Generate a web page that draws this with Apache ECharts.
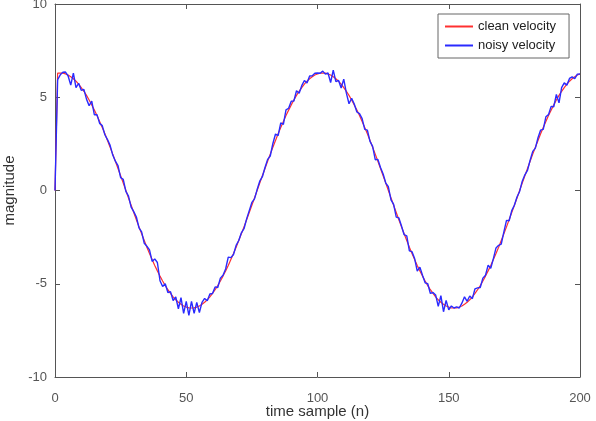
<!DOCTYPE html>
<html>
<head>
<meta charset="utf-8">
<script src="https://cdn.jsdelivr.net/npm/echarts@6/dist/echarts.min.js"></script>
<style>
  html, body { margin: 0; padding: 0; background: #fff; }
  #chart { width: 596px; height: 421px; }
</style>
</head>
<body>
<div id="chart"></div>
<script>
// time samples 0..200
const samples = Array.from({ length: 201 }, (_, i) => i);

const cleanVelocity = [
  0, 6.29, 6.30, 6.29, 6.25, 6.19, 6.10, 5.99, 5.86, 5.70,
  5.52, 5.32, 5.10, 4.85, 4.59, 4.31, 4.02, 3.70, 3.38, 3.04,
  2.68, 2.32, 1.95, 1.57, 1.18, 0.79, 0.40, 0.00, -0.40, -0.79,
  -1.18, -1.57, -1.95, -2.32, -2.68, -3.04, -3.38, -3.70, -4.02, -4.31,
  -4.59, -4.85, -5.10, -5.32, -5.52, -5.70, -5.86, -5.99, -6.10, -6.19,
  -6.25, -6.29, -6.30, -6.29, -6.25, -6.19, -6.10, -5.99, -5.86, -5.70,
  -5.52, -5.32, -5.10, -4.85, -4.59, -4.31, -4.02, -3.70, -3.38, -3.04,
  -2.68, -2.32, -1.95, -1.57, -1.18, -0.79, -0.40, 0.00, 0.40, 0.79,
  1.18, 1.57, 1.95, 2.32, 2.68, 3.04, 3.38, 3.70, 4.02, 4.31,
  4.59, 4.85, 5.10, 5.32, 5.52, 5.70, 5.86, 5.99, 6.10, 6.19,
  6.25, 6.29, 6.30, 6.29, 6.25, 6.19, 6.10, 5.99, 5.86, 5.70,
  5.52, 5.32, 5.10, 4.85, 4.59, 4.31, 4.02, 3.70, 3.38, 3.04,
  2.68, 2.32, 1.95, 1.57, 1.18, 0.79, 0.40, 0.00, -0.40, -0.79,
  -1.18, -1.57, -1.95, -2.32, -2.68, -3.04, -3.38, -3.70, -4.02, -4.31,
  -4.59, -4.85, -5.10, -5.32, -5.52, -5.70, -5.86, -5.99, -6.10, -6.19,
  -6.25, -6.29, -6.30, -6.29, -6.25, -6.19, -6.10, -5.99, -5.86, -5.70,
  -5.52, -5.32, -5.10, -4.85, -4.59, -4.31, -4.02, -3.70, -3.38, -3.04,
  -2.68, -2.32, -1.95, -1.57, -1.18, -0.79, -0.40, 0.00, 0.40, 0.79,
  1.18, 1.57, 1.95, 2.32, 2.68, 3.04, 3.38, 3.70, 4.02, 4.31,
  4.59, 4.85, 5.10, 5.32, 5.52, 5.70, 5.86, 5.99, 6.10, 6.19,
  6.25
];

const noisyVelocity = [
  0, 5.94, 6.20, 6.34, 6.35, 6.14, 5.65, 6.29, 5.51, 5.75,
  5.37, 5.42, 4.90, 4.55, 4.79, 4.06, 4.07, 3.60, 3.48, 2.99,
  2.73, 2.42, 1.90, 1.57, 1.33, 0.69, 0.60, -0.05, -0.30, -0.89,
  -1.13, -1.42, -2.00, -2.22, -2.83, -2.99, -3.18, -3.80, -3.67, -3.86,
  -4.84, -5.15, -5.00, -5.47, -5.42, -5.90, -5.71, -6.34, -5.75, -6.59,
  -5.95, -6.69, -5.95, -6.59, -6.00, -6.54, -6.00, -5.79, -5.91, -5.55,
  -5.52, -5.17, -5.20, -4.70, -4.54, -4.21, -3.57, -3.60, -3.43, -2.94,
  -2.68, -2.27, -2.05, -1.52, -1.08, -0.64, -0.45, 0.05, 0.50, 0.74,
  1.23, 1.67, 1.85, 2.52, 3.03, 2.94, 3.63, 3.55, 4.32, 4.41,
  4.79, 4.80, 5.35, 5.22, 5.62, 5.90, 5.76, 6.14, 6.15, 6.29,
  6.30, 6.29, 6.40, 6.24, 6.30, 5.79, 6.45, 5.84, 5.91, 5.50,
  5.97, 5.22, 4.65, 4.95, 4.64, 4.21, 4.12, 3.85, 3.28, 3.24,
  2.63, 2.37, 1.65, 1.67, 1.23, 0.89, 0.40, 0.20, -0.50, -0.74,
  -1.43, -1.47, -1.90, -2.37, -2.43, -3.24, -3.28, -3.65, -4.32, -4.11,
  -4.54, -4.95, -5.00, -5.52, -5.47, -5.60, -6.21, -5.64, -6.50, -5.89,
  -6.40, -6.19, -6.30, -6.24, -6.30, -6.04, -5.70, -5.94, -5.66, -5.80,
  -5.27, -5.22, -5.20, -4.70, -4.54, -4.01, -4.17, -3.65, -3.08, -2.94,
  -2.88, -2.22, -1.60, -1.62, -1.08, -0.79, -0.35, -0.05, 0.50, 0.84,
  1.08, 1.62, 2.10, 2.27, 2.83, 3.24, 3.28, 3.95, 4.07, 4.51,
  4.49, 5.15, 4.70, 5.52, 5.77, 5.65, 6.01, 6.09, 6.00, 6.24,
  6.25
];

const xTicks = [0, 50, 100, 150, 200];
const yTicks = [-10, -5, 0, 5, 10];

const axisColor = '#555';
const labelColor = '#555';
const fontFamily = '"Liberation Sans", Arial, sans-serif';

const pairs = (ys) => samples.map((x, i) => [x, ys[i]]);

const baseX = {
  type: 'value',
  min: xTicks[0],
  max: xTicks[xTicks.length - 1],
  interval: 50,
  splitLine: { show: false },
  axisLine: { show: true, onZero: false, lineStyle: { color: axisColor, width: 1 } },
  axisTick: { show: true, inside: true, length: 5, lineStyle: { color: axisColor } }
};
const baseY = {
  type: 'value',
  min: yTicks[0],
  max: yTicks[yTicks.length - 1],
  interval: 5,
  splitLine: { show: false },
  axisLine: { show: true, onZero: false, lineStyle: { color: axisColor, width: 1 } },
  axisTick: { show: true, inside: true, length: 5, lineStyle: { color: axisColor } }
};

const chart = echarts.init(document.getElementById('chart'), null, { renderer: 'canvas' });

chart.setOption({
  animation: false,
  backgroundColor: '#fff',
  textStyle: { fontFamily: fontFamily },
  grid: { left: 55, right: 16, top: 4, bottom: 44, containLabel: false, outerBoundsMode: 'none' },
  legend: {
    left: 438,
    top: 14,
    orient: 'vertical',
    backgroundColor: '#fff',
    borderColor: '#666',
    borderWidth: 1,
    padding: [6, 13, 6, 7],
    itemGap: 6,
    itemWidth: 28,
    itemHeight: 2,
    icon: 'rect',
    textStyle: { fontSize: 13, color: '#222', fontFamily: fontFamily },
    data: ['clean velocity', 'noisy velocity']
  },
  xAxis: [
    Object.assign({}, baseX, {
      position: 'bottom',
      name: 'time sample (n)',
      nameLocation: 'middle',
      nameGap: 27,
      nameMoveOverlap: false,
      nameTextStyle: { fontSize: 15, color: '#333', fontFamily: fontFamily },
      axisLabel: { margin: 15, fontSize: 13, color: labelColor, fontFamily: fontFamily }
    }),
    Object.assign({}, baseX, { position: 'top', axisLabel: { show: false } })
  ],
  yAxis: [
    Object.assign({}, baseY, {
      position: 'left',
      name: 'magnitude',
      nameLocation: 'middle',
      nameGap: 38,
      nameMoveOverlap: false,
      nameTextStyle: { fontSize: 15, color: '#333', fontFamily: fontFamily },
      axisLabel: { margin: 8, fontSize: 13, color: labelColor, fontFamily: fontFamily }
    }),
    Object.assign({}, baseY, { position: 'right', axisLabel: { show: false } })
  ],
  series: [
    {
      name: 'clean velocity',
      type: 'line',
      data: pairs(cleanVelocity),
      symbol: 'none',
      color: '#ff3030',
      lineStyle: { width: 1.2, color: '#ff3030' },
      z: 2
    },
    {
      name: 'noisy velocity',
      type: 'line',
      data: pairs(noisyVelocity),
      symbol: 'none',
      color: '#2a2aff',
      lineStyle: { width: 1.4, color: '#2a2aff' },
      z: 3
    }
  ]
});
</script>
</body>
</html>
